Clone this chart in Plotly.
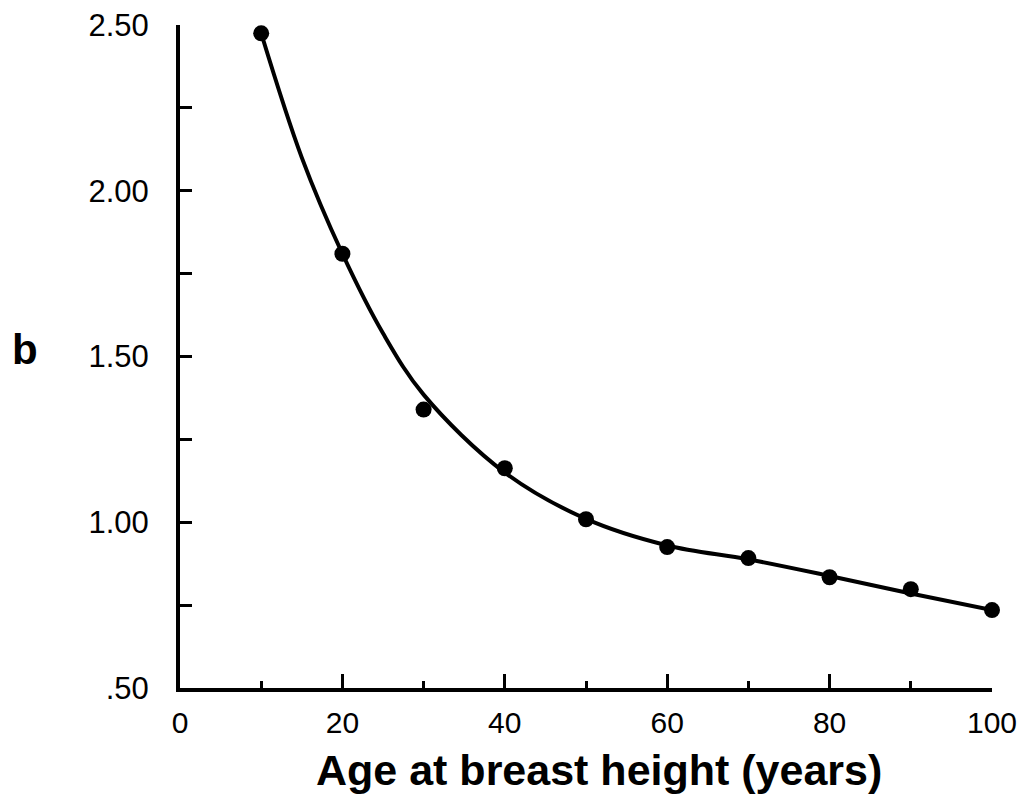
import plotly.graph_objects as go

# Observed data points
age = [10, 20, 30, 40, 50, 60, 70, 80, 90, 100]
b_values = [2.475, 1.81, 1.34, 1.163, 1.009, 0.925, 0.892, 0.834, 0.798, 0.735]

# Fitted curve
fit_age = [10, 15, 20, 25, 30, 40, 50, 60, 70, 80, 90, 100]
fit_b = [2.475, 2.10, 1.81, 1.57, 1.385, 1.15, 1.01, 0.93, 0.888, 0.838, 0.785, 0.735]

x_tickvals = [0, 20, 40, 60, 80, 100]
x_ticktext = ["0", "20", "40", "60", "80", "100"]
y_tickvals = [0.5, 1.0, 1.5, 2.0, 2.5]
y_ticktext = [".50", "1.00", "1.50", "2.00", "2.50"]

FONT = "Liberation Sans, Arial, Helvetica, sans-serif"

fig = go.Figure()
fig.add_trace(go.Scatter(x=fit_age, y=fit_b, mode="lines",
                         line=dict(color="black", width=4, shape="spline", smoothing=1.0),
                         cliponaxis=False, hoverinfo="skip"))
fig.add_trace(go.Scatter(x=age, y=b_values, mode="markers",
                         marker=dict(color="black", size=16),
                         cliponaxis=False))

fig.update_layout(
    width=1031, height=794,
    margin=dict(l=172, r=47, t=17, b=114),
    paper_bgcolor="white", plot_bgcolor="white",
    showlegend=False,
    font=dict(family=FONT, color="black", size=30),
    xaxis=dict(range=[0, 100], showgrid=False, zeroline=False, automargin=False,
               showline=True, linecolor="black", linewidth=4,
               ticks="inside", ticklen=14, tickwidth=3, tickcolor="black",
               tickvals=x_tickvals, ticktext=x_ticktext,
               tickfont=dict(size=30, family=FONT), ticklabelstandoff=5,
               ticklabeloverflow="allow",
               minor=dict(ticks="inside", ticklen=7, tickwidth=3, tickcolor="black", dtick=10, showgrid=False)),
    yaxis=dict(range=[0.5, 2.5], showgrid=False, zeroline=False, automargin=False,
               showline=True, linecolor="black", linewidth=4,
               ticks="inside", ticklen=12, tickwidth=3, tickcolor="black",
               tickvals=y_tickvals, ticktext=y_ticktext,
               tickfont=dict(size=31, family=FONT), ticklabelstandoff=21,
               ticklabeloverflow="allow",
               minor=dict(ticks="inside", ticklen=12, tickwidth=3, tickcolor="black", dtick=0.25, showgrid=False)),
    annotations=[
        dict(text="<b>Age at breast height (years)</b>", xref="paper", yref="paper",
             x=0.516, y=0, yshift=-82, xanchor="center", yanchor="middle",
             showarrow=False, font=dict(size=43, family=FONT)),
        dict(text="<b>b</b>", xref="paper", yref="y", x=0, xshift=-155, y=1.52,
             xanchor="center", yanchor="middle", showarrow=False,
             font=dict(size=42, family=FONT)),
    ],
)

fig.write_html("out.html")
